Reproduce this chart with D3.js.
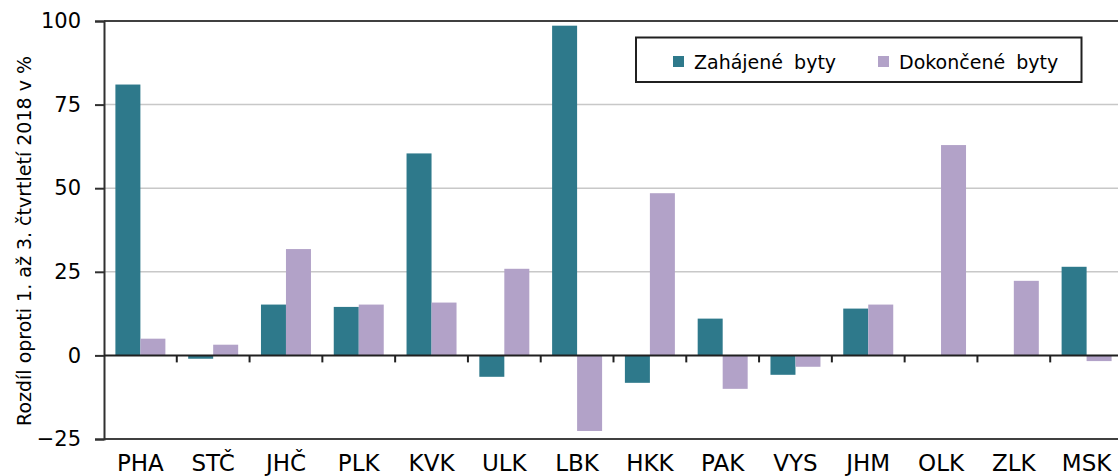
<!DOCTYPE html>
<html><head><meta charset="utf-8">
<script src="https://cdn.jsdelivr.net/npm/d3@7"></script>
<style>body{margin:0;background:#fff}svg{display:block}</style>
</head><body>
<svg id="c" width="1118" height="476"></svg>
<script>
const categories = ["PHA","STČ","JHČ","PLK","KVK","ULK","LBK","HKK","PAK","VYS","JHM","OLK","ZLK","MSK"];
const seriesNames = ["Zahájené byty","Dokončené byty"];
const zahajene = [81.0, -1.0, 15.2, 14.5, 60.4, -6.4, 98.6, -8.2, 11.0, -5.8, 14.0, 0, 0, 26.5];
const dokoncene = [5.0, 3.2, 31.8, 15.2, 15.8, 25.9, -22.6, 48.5, -10.0, -3.4, 15.2, 62.9, 22.3, -1.7];
const yTicks = [-25, 0, 25, 50, 75, 100];
const colors = ["#2e798b", "#b2a2c8"];

(function () {
const svg = d3.select("#c");
const font = "DejaVu Sans, Verdana, sans-serif";
const pL = 104, pR = 1123, pT = 21, pB = 439;

const x0 = d3.scaleBand().domain(categories).range([pL, pR]).paddingInner(0).paddingOuter(0);
const x1 = d3.scaleBand().domain(seriesNames).range([0, x0.bandwidth()]).paddingInner(0).paddingOuter(0.456);
const y = d3.scaleLinear().domain([-25, 100]).range([pB, pT]);

svg.append("g").selectAll("line").data([25, 50, 75]).join("line")
  .attr("x1", pL).attr("x2", pR).attr("y1", d => y(d)).attr("y2", d => y(d))
  .attr("stroke", "#c8c8c8").attr("stroke-width", 1.5);

svg.append("line").attr("x1", pL).attr("x2", pR).attr("y1", y(100)).attr("y2", y(100))
  .attr("stroke", "#404040").attr("stroke-width", 2);
svg.append("line").attr("x1", pL).attr("x2", pR).attr("y1", y(-25)).attr("y2", y(-25))
  .attr("stroke", "#404040").attr("stroke-width", 2);

const data = categories.map((c, i) => ({c, vals: [zahajene[i], dokoncene[i]]}));
const g = svg.append("g").selectAll("g").data(data).join("g")
  .attr("transform", d => `translate(${x0(d.c)},0)`);
g.selectAll("rect").data(d => d.vals.map((v, j) => ({v, s: seriesNames[j], j})))
  .join("rect")
  .attr("x", d => x1(d.s)).attr("width", x1.bandwidth())
  .attr("y", d => y(Math.max(0, d.v))).attr("height", d => Math.abs(y(d.v) - y(0)))
  .attr("fill", d => colors[d.j]);

const yAxis = d3.axisLeft(y).tickValues(yTicks).tickSize(9).tickPadding(14).tickFormat(d3.format("d"));
const ya = svg.append("g").attr("transform", `translate(${pL},0)`).call(yAxis);
ya.select(".domain").attr("stroke", "#303030").attr("stroke-width", 2);
ya.selectAll(".tick line").attr("stroke", "#303030").attr("stroke-width", 2);
ya.selectAll("text").attr("font-family", font).attr("font-size", 21).attr("fill", "#000");

svg.append("line").attr("x1", pL).attr("x2", pR).attr("y1", y(0)).attr("y2", y(0))
  .attr("stroke", "#202020").attr("stroke-width", 2);
svg.append("g").selectAll("line").data(categories.slice(1)).join("line")
  .attr("x1", d => x0(d)).attr("x2", d => x0(d)).attr("y1", y(0)).attr("y2", y(0) + 7)
  .attr("stroke", "#202020").attr("stroke-width", 2);

svg.append("g").selectAll("text").data(categories).join("text")
  .attr("x", d => x0(d) + x0.bandwidth() / 2).attr("y", 470.5)
  .attr("text-anchor", "middle").attr("font-family", font).attr("font-size", 23)
  .attr("fill", "#000").text(d => d);

svg.append("text").attr("transform", `translate(31,241) rotate(-90)`)
  .attr("text-anchor", "middle").attr("font-family", font).attr("font-size", 19)
  .attr("fill", "#000").text("Rozdíl oproti 1. až 3. čtvrtletí 2018 v %");

const lg = svg.append("g");
lg.append("rect").attr("x", 636).attr("y", 37.5).attr("width", 445.5).attr("height", 44.5)
  .attr("fill", "#fff").attr("stroke", "#202020").attr("stroke-width", 2);
const lx = [673, 878];
seriesNames.forEach((s, i) => {
  lg.append("rect").attr("x", lx[i]).attr("y", 56).attr("width", 11).attr("height", 11).attr("fill", colors[i]);
  lg.append("text").attr("x", lx[i] + 21).attr("y", 68.5).attr("font-family", font).attr("font-size", 19)
    .attr("word-spacing", 5).attr("fill", "#000").text(s);
});
})();
</script>
</body></html>
